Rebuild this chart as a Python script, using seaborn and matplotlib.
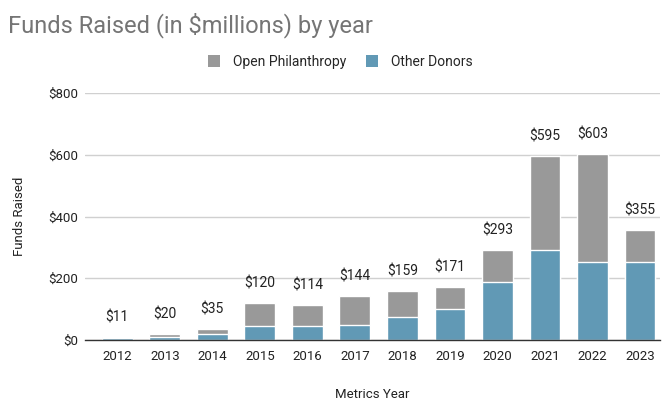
import matplotlib
matplotlib.use("Agg")
import matplotlib.pyplot as plt
import seaborn as sns
import pandas as pd
from matplotlib.patches import Patch

years = ["2012", "2013", "2014", "2015", "2016", "2017", "2018", "2019", "2020", "2021", "2022", "2023"]
totals = [11, 20, 35, 120, 114, 144, 159, 171, 293, 595, 603, 355]
other_donors = [5, 10, 18, 45, 45, 50, 75, 100, 188, 292, 253, 253]

GRAY = "#999999"
BLUE = "#6199b5"

sns.set_theme(style="white")
plt.rcParams["font.family"] = ["Roboto", "DejaVu Sans"]

df = pd.DataFrame({"year": years, "total": totals, "other": other_donors})

fig = plt.figure(figsize=(6.62, 4.0), dpi=100)
ax = fig.add_axes([85 / 662, 0.15, 575 / 662, 0.6175])

sns.barplot(data=df, x="year", y="total", color=GRAY, width=0.65, saturation=1, ax=ax)
sns.barplot(data=df, x="year", y="other", color=BLUE, width=0.65, saturation=1, ax=ax)

ax.set_xlim(-0.68, 11.42)
ax.set_ylim(0, 800)
ax.set_yticks([0, 200, 400, 600, 800])
ax.set_yticklabels(["$0", "$200", "$400", "$600", "$800"], fontsize=9.5, color="#222222")
ax.tick_params(axis="x", labelsize=9.5, colors="#222222", length=0, pad=7)
ax.tick_params(axis="y", length=0, pad=5)
ax.yaxis.grid(True, color="#d0d0d0", linewidth=1)
ax.set_axisbelow(True)
for s in ["top", "right", "left"]:
    ax.spines[s].set_visible(False)
ax.spines["bottom"].set_color("#333333")
ax.spines["bottom"].set_linewidth(1.0)

for i, t in enumerate(totals):
    ax.text(i, t + 50, f"${t}", ha="center", va="baseline", fontsize=10, color="#222222")

ax.set_xlabel("Metrics Year", fontsize=9.5, color="#222222", labelpad=18)
ax.set_ylabel("Funds Raised", fontsize=9.5, color="#222222", labelpad=16)

fig.text(0.012, 0.938, "Funds Raised (in $millions) by year", fontsize=17, color="#757575",
         ha="left", va="center")

handles = [Patch(facecolor=GRAY, edgecolor="none", label="Open Philanthropy"),
           Patch(facecolor=BLUE, edgecolor="none", label="Other Donors")]
fig.legend(handles=handles, loc="center", bbox_to_anchor=(0.514, 0.845), ncol=2, frameon=False,
           fontsize=10, handlelength=0.9, handleheight=0.9, columnspacing=1.4, handletextpad=0.9)

fig.savefig("out.png", dpi=100)
